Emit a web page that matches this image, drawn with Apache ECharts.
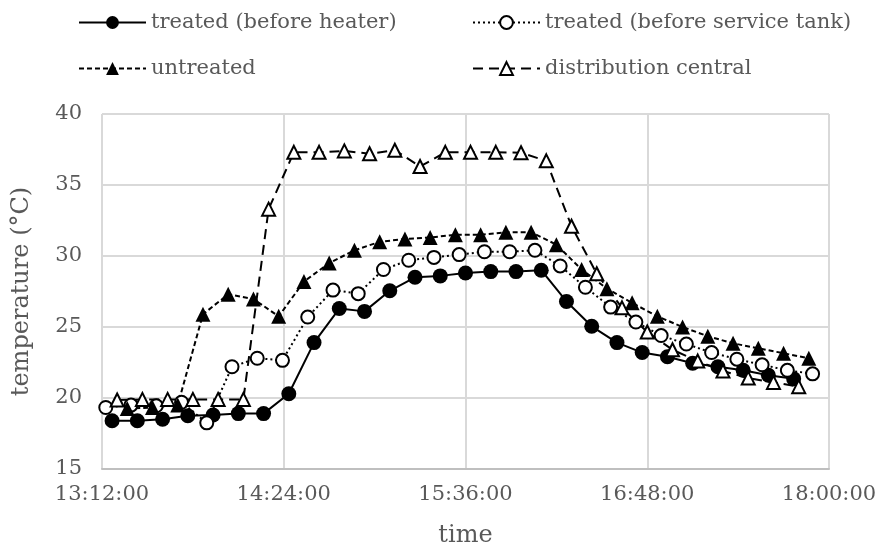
<!DOCTYPE html>
<html>
<head>
<meta charset="utf-8">
<script src="https://cdn.jsdelivr.net/npm/echarts@6/dist/echarts.min.js"></script>
<style>html,body{margin:0;padding:0;background:#fff}#c{width:880px;height:553px}</style>
</head>
<body>
<div id="c"></div>
<script>
const seriesNames = ["treated (before heater)", "treated (before service tank)", "untreated", "distribution central"];

const timesHeater = ["13:16","13:26","13:36","13:46","13:56","14:06","14:16","14:26","14:36","14:46","14:56","15:06","15:16","15:26","15:36","15:46","15:56","16:06","16:16","16:26","16:36","16:46","16:56","17:06","17:16","17:26","17:36","17:46"];
const valuesHeater = [18.4,18.4,18.5,18.75,18.8,18.9,18.9,20.3,23.9,26.3,26.1,27.55,28.5,28.6,28.8,28.9,28.9,29.0,26.8,25.05,23.9,23.2,22.9,22.45,22.2,21.95,21.6,21.35];

const timesTank = ["13:13:30","13:23:30","13:33:30","13:43:30","13:53:30","14:03:30","14:13:30","14:23:30","14:33:30","14:43:30","14:53:30","15:03:30","15:13:30","15:23:30","15:33:30","15:43:30","15:53:30","16:03:30","16:13:30","16:23:30","16:33:30","16:43:30","16:53:30","17:03:30","17:13:30","17:23:30","17:33:30","17:43:30","17:53:30"];
const valuesTank = [19.33,19.5,19.45,19.7,18.25,22.2,22.8,22.65,25.7,27.6,27.35,29.05,29.7,29.9,30.1,30.3,30.3,30.4,29.3,27.8,26.4,25.35,24.4,23.8,23.2,22.73,22.34,21.95,21.7];

const timesUntreated = ["13:22","13:32","13:42","13:52","14:02","14:12","14:22","14:32","14:42","14:52","15:02","15:12","15:22","15:32","15:42","15:52","16:02","16:12","16:22","16:32","16:42","16:52","17:02","17:12","17:22","17:32","17:42","17:52"];
const valuesUntreated = [19.26,19.33,19.5,25.9,27.3,26.97,25.75,28.2,29.5,30.4,31.0,31.2,31.3,31.5,31.5,31.67,31.67,30.8,29.05,27.7,26.7,25.75,25.0,24.35,23.85,23.5,23.15,22.8];

const timesCentral = ["13:18","13:28","13:38","13:48","13:58","14:08","14:18","14:28","14:38","14:48","14:58","15:08","15:18","15:28","15:38","15:48","15:58","16:08","16:18","16:28","16:38","16:48","16:58","17:08","17:18","17:28","17:38","17:48"];
const valuesCentral = [19.86,19.9,19.9,19.9,19.9,19.9,33.3,37.3,37.3,37.4,37.2,37.45,36.3,37.3,37.3,37.3,37.27,36.7,32.1,28.75,26.35,24.65,23.4,22.6,21.9,21.4,21.1,20.8];

const xMinTime = "13:12:00", xMaxTime = "18:00:00", xStepMinutes = 72;
const yMin = 15, yMax = 40, yStep = 5;
const xTitle = "time", yTitle = "temperature (°C)";

function toMin(s){ const p = s.split(":").map(Number); return p[0]*60 + p[1] + (p[2]||0)/60; }
function fmt(m){ const h = Math.floor(m/60), mm = Math.round(m - h*60); return h + ":" + String(mm).padStart(2,"0") + ":00"; }
function pairs(t, v){ return t.map((s,i)=>[toMin(s), v[i]]); }

const FONT = "DejaVu Serif";
const GRAY = "#595959";
const chart = echarts.init(document.getElementById('c'), null, {renderer:'canvas'});

function legendAt(name, left, top){
  return { data:[name], left:left, top:top, itemWidth:67, itemHeight:16, itemGap:8,
    textStyle:{fontFamily:FONT, fontSize:21, color:GRAY} };
}

chart.setOption({
  animation:false,
  backgroundColor:'#fff',
  grid:{left:102, right:51, top:114, bottom:81, containLabel:false},
  legend:[
    legendAt(seriesNames[0], 73, 7),
    legendAt(seriesNames[1], 467, 7),
    legendAt(seriesNames[2], 73, 53),
    legendAt(seriesNames[3], 467, 53)
  ],
  xAxis:{type:'value', min:toMin(xMinTime), max:toMin(xMaxTime), interval:xStepMinutes,
    name:xTitle, nameLocation:'middle', nameGap:55,
    nameTextStyle:{fontFamily:FONT, fontSize:24, color:GRAY},
    axisLine:{show:true, lineStyle:{color:'#bfbfbf', width:2}},
    axisTick:{show:false},
    axisLabel:{formatter:fmt, fontFamily:FONT, fontSize:21, color:GRAY, margin:15},
    splitLine:{show:true, lineStyle:{color:'#d9d9d9', width:2}}
  },
  yAxis:{type:'value', min:yMin, max:yMax, interval:yStep,
    name:yTitle, nameLocation:'middle', nameGap:68,
    nameTextStyle:{fontFamily:FONT, fontSize:24, color:GRAY},
    axisLine:{show:false}, axisTick:{show:false},
    axisLabel:{fontFamily:FONT, fontSize:21, color:GRAY, margin:20},
    splitLine:{show:true, lineStyle:{color:'#d9d9d9', width:2}}
  },
  series:[
    {name:seriesNames[0], type:'line', data:pairs(timesHeater, valuesHeater),
      symbol:'circle', symbolSize:15, lineStyle:{color:'#000', width:2, type:'solid'},
      itemStyle:{color:'#000', borderColor:'#000', borderWidth:0}},
    {name:seriesNames[1], type:'line', data:pairs(timesTank, valuesTank),
      symbol:'circle', symbolSize:13, lineStyle:{color:'#000', width:2, type:[2,3]},
      itemStyle:{color:'#fff', borderColor:'#000', borderWidth:2}},
    {name:seriesNames[2], type:'line', data:pairs(timesUntreated, valuesUntreated),
      symbol:'triangle', symbolSize:15, lineStyle:{color:'#000', width:2, type:[5,3]},
      itemStyle:{color:'#000', borderColor:'#000', borderWidth:0}},
    {name:seriesNames[3], type:'line', data:pairs(timesCentral, valuesCentral),
      symbol:'triangle', symbolSize:13, lineStyle:{color:'#000', width:2, type:[10,6]},
      itemStyle:{color:'#fff', borderColor:'#000', borderWidth:2}}
  ]
});
</script>
</body>
</html>
